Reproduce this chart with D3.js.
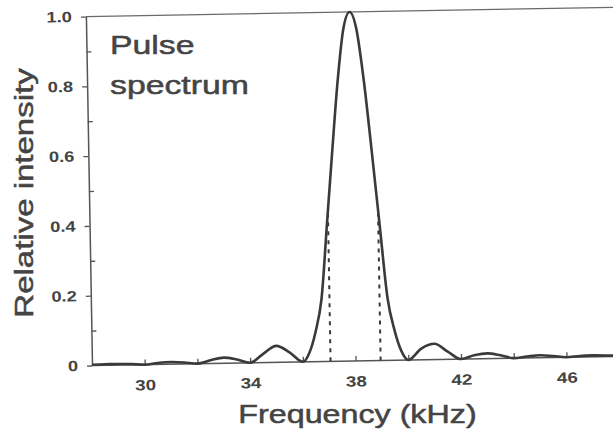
<!DOCTYPE html>
<html>
<head>
<meta charset="utf-8">
<script src="https://cdn.jsdelivr.net/npm/d3@7/dist/d3.min.js"></script>
<style>
  html, body { margin: 0; padding: 0; background: #ffffff; }
  svg { display: block; }
</style>
</head>
<body>
<svg id="chart" width="613" height="432"></svg>
<script>
// ---- Data ----
const freqs = [28, 28.5, 29, 29.5, 30, 30.5, 31, 31.5, 32, 32.5, 33, 33.5, 34, 34.5, 35, 35.5,
  36, 36.25, 36.5, 36.75, 37, 37.25, 37.5, 37.75, 38, 38.25, 38.5, 38.75, 39, 39.25, 39.5, 39.75,
  40, 40.5, 41, 41.5, 42, 42.5, 43, 43.5, 44, 44.5, 45, 45.5, 46, 46.5, 47, 47.5, 47.8];
const intensity = [0.002, 0.003, 0.003, 0.002, 0, 0.004, 0.006, 0.004, 0, 0.009, 0.016, 0.010, 0, 0.025, 0.047, 0.028,
  0, 0.025, 0.085, 0.18, 0.39, 0.60, 0.80, 0.95, 1.0, 0.95, 0.80, 0.60, 0.39, 0.18, 0.085, 0.025,
  0, 0.032, 0.045, 0.022, 0, 0.010, 0.015, 0.009, 0, 0.004, 0.007, 0.004, 0, 0.003, 0.004, 0.003, 0.002];
const markerFreqs = [37.05, 38.95];
const markerTops = [0.42, 0.42];
const xTicks = [30, 32, 34, 36, 38, 40, 42, 44, 46];
const xTickLabels = [30, 34, 38, 42, 46];
const yMajor = [0, 0.2, 0.4, 0.6, 0.8, 1.0];
const yMajorLabels = ["0", "0.2", "0.4", "0.6", "0.8", "1.0"];
const yMinor = [0.1, 0.3, 0.5, 0.7, 0.9];
const xDomain = [28, 47.8];
const yDomain = [0, 1];
const xTitle = "Frequency (kHz)";
const yTitle = "Relative intensity";
const noteLines = ["Pulse", "spectrum"];

// ---- Drawing ----
const W = 522, H = 349;
const ink = "#3a3a3a";
const textInk = "#444444";
const font = "'Liberation Sans', Arial, Helvetica, sans-serif";

const svg = d3.select("#chart");
svg.append("rect").attr("width", 613).attr("height", 432).attr("fill", "#ffffff");

const g = svg.append("g")
  .attr("transform", "translate(92,365.5) rotate(-1) translate(0," + (-H) + ")");

const x = d3.scaleLinear().domain(xDomain).range([0, W]);
const y = d3.scaleLinear().domain(yDomain).range([H, 0]);

// top frame line
g.append("line")
  .attr("x1", 0).attr("x2", W + 8)
  .attr("y1", y(1)).attr("y2", y(1))
  .attr("stroke", "#6a6a6a").attr("stroke-width", 1.3);

// bottom axis
const xAxis = g.append("g")
  .attr("transform", "translate(0," + H + ")")
  .call(d3.axisBottom(x)
    .tickValues(xTicks)
    .tickSizeInner(-5)
    .tickSizeOuter(0)
    .tickPadding(15)
    .tickFormat(d => xTickLabels.includes(d) ? String(d) : ""));
xAxis.select(".domain").remove();
xAxis.append("line")
  .attr("x1", 0).attr("x2", W + 8).attr("y1", 0).attr("y2", 0)
  .attr("stroke", "#555").attr("stroke-width", 1.5);
xAxis.selectAll(".tick line").attr("stroke", "#555").attr("stroke-width", 1.3);
xAxis.selectAll("text")
  .attr("fill", textInk)
  .attr("font-family", font)
  .attr("font-size", 15)
  .attr("font-weight", "bold")
  .attr("transform", "scale(1.25,1)");

// left axis major
const yAxis = g.append("g")
  .call(d3.axisLeft(y)
    .tickValues(yMajor)
    .tickSizeInner(5)
    .tickSizeOuter(0)
    .tickPadding(9)
    .tickFormat((d, i) => yMajorLabels[i]));
yAxis.select(".domain").attr("stroke", "#555").attr("stroke-width", 1.5);
yAxis.selectAll(".tick line").attr("stroke", "#555").attr("stroke-width", 1.3);
yAxis.selectAll("text")
  .attr("fill", textInk)
  .attr("font-family", font)
  .attr("font-size", 15)
  .attr("font-weight", "bold")
  .attr("x", -14 / 1.22)
  .attr("transform", "scale(1.22,1)");

// left axis minor (inward)
const yMinorAxis = g.append("g")
  .call(d3.axisLeft(y)
    .tickValues(yMinor)
    .tickSize(-5)
    .tickFormat(""));
yMinorAxis.select(".domain").remove();
yMinorAxis.selectAll(".tick line").attr("stroke", "#555").attr("stroke-width", 1.3);

// dotted markers
g.selectAll(".marker")
  .data(markerFreqs)
  .enter().append("line")
  .attr("class", "marker")
  .attr("x1", d => x(d)).attr("x2", d => x(d))
  .attr("y1", y(0)).attr("y2", (d, i) => y(markerTops[i]))
  .attr("stroke", ink)
  .attr("stroke-width", 2)
  .attr("stroke-dasharray", "4,5");

// spectrum curve
const pts = freqs.map((f, i) => [f, intensity[i]]);
g.append("path")
  .datum(pts)
  .attr("fill", "none")
  .attr("stroke", ink)
  .attr("stroke-width", 2.6)
  .attr("stroke-linejoin", "round")
  .attr("d", d3.line()
    .x(d => x(d[0]))
    .y(d => y(d[1]))
    .curve(d3.curveMonotoneX));

// note text
const note = svg.append("g");
note.selectAll("text")
  .data(noteLines)
  .enter().append("text")
  .attr("transform", (d, i) => "translate(110," + (54 + i * 40) + ") scale(1.3,1)")
  .attr("font-family", font)
  .attr("font-size", 26)
  .attr("fill", textInk)
  .attr("stroke", textInk)
  .attr("stroke-width", 0.5)
  .text(d => d);

// axis titles
svg.append("text")
  .attr("transform", "translate(357.5,423) scale(1.29,1)")
  .attr("text-anchor", "middle")
  .attr("font-family", font)
  .attr("font-size", 25)
  .attr("fill", textInk)
  .attr("stroke", textInk)
  .attr("stroke-width", 0.5)
  .text(xTitle);

svg.append("text")
  .attr("transform", "translate(33,193) rotate(-90) scale(1.32,1)")
  .attr("text-anchor", "middle")
  .attr("font-family", font)
  .attr("font-size", 25)
  .attr("fill", textInk)
  .attr("stroke", textInk)
  .attr("stroke-width", 0.5)
  .text(yTitle);
</script>
</body>
</html>
